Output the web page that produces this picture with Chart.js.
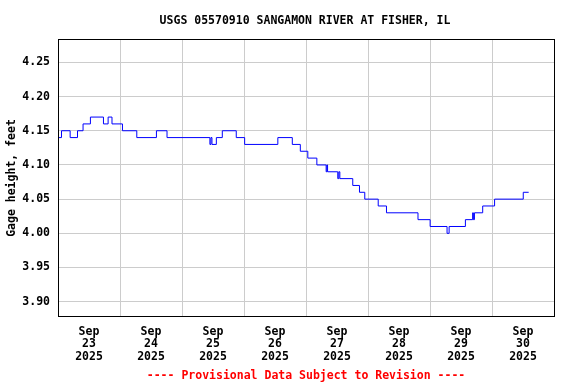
<!DOCTYPE html>
<html>
<head>
<meta charset="utf-8">
<script src="https://cdn.jsdelivr.net/npm/chart.js@4"></script>
<style>
html,body{margin:0;padding:0;background:#fff;}
#wrap{width:576px;height:384px;}
</style>
</head>
<body>
<div id="wrap"><canvas id="c" width="576" height="384"></canvas></div>
<script>
// Hours since 2025-09-23 00:00 at which the gage reading changes
const hoursSinceStart = [0.3, 1.35, 4.7, 7.55, 9.7, 12.55, 17.6, 19.4, 20.9, 24.95, 30.5, 38.1, 42.2, 58.8, 59.2, 59.6, 61.3, 63.6, 69.0, 72.25, 85.1, 90.7, 93.8, 96.7, 100.2, 103.8, 104.1, 104.35, 108.3, 108.7, 109.1, 114.1, 116.7, 118.75, 123.95, 127.15, 139.35, 144.05, 150.6, 151.4, 157.7, 160.5, 160.8, 161.2, 164.4, 169.0, 180.1, 182.2];
const gageFeet = [4.14, 4.15, 4.14, 4.15, 4.16, 4.17, 4.16, 4.17, 4.16, 4.15, 4.14, 4.15, 4.14, 4.13, 4.14, 4.13, 4.14, 4.15, 4.14, 4.13, 4.14, 4.13, 4.12, 4.11, 4.10, 4.09, 4.10, 4.09, 4.08, 4.09, 4.08, 4.07, 4.06, 4.05, 4.04, 4.03, 4.02, 4.01, 4.00, 4.01, 4.02, 4.03, 4.02, 4.03, 4.04, 4.05, 4.06, 4.06];
const dayLabels = [["Sep","23","2025"],["Sep","24","2025"],["Sep","25","2025"],["Sep","26","2025"],["Sep","27","2025"],["Sep","28","2025"],["Sep","29","2025"],["Sep","30","2025"]];
const yTicks = [3.90, 3.95, 4.00, 4.05, 4.10, 4.15, 4.20, 4.25];
const titleText = "USGS 05570910 SANGAMON RIVER AT FISHER, IL";
const footerText = "---- Provisional Data Subject to Revision ----";
const yTitle = "Gage height, feet";

const FONT = "'DejaVu Sans Mono', 'Liberation Mono', monospace";
const points = hoursSinceStart.map((h, i) => ({x: h, y: gageFeet[i]}));

const framePlugin = {
  id: 'frame',
  afterDraw(chart) {
    const {ctx, chartArea: a} = chart;
    ctx.save();
    ctx.strokeStyle = '#000';
    ctx.lineWidth = 1;
    ctx.strokeRect(Math.round(a.left) + 0.5, Math.round(a.top) - 0.5, Math.round(a.right - a.left), Math.round(a.bottom - a.top) + 1);
    ctx.textAlign = 'center';
    ctx.textBaseline = 'middle';
    ctx.font = "bold 11.5px " + FONT;
    ctx.fillStyle = '#000';
    ctx.fillText(titleText, 305, 21);
    ctx.fillStyle = '#ff0000';
    ctx.fillText(footerText, 306, 376);
    ctx.restore();
  }
};

new Chart(document.getElementById('c'), {
  type: 'line',
  data: {
    datasets: [{
      data: points,
      borderColor: '#0000ff',
      borderWidth: 1,
      pointRadius: 0,
      stepped: 'before',
      fill: false,
      tension: 0
    }]
  },
  options: {
    responsive: false,
    animation: false,
    devicePixelRatio: 1,
    layout: {padding: {left: 0, right: 22, top: 40, bottom: 24}},
    plugins: {legend: {display: false}, tooltip: {enabled: false}, title: {display: false}},
    scales: {
      x: {
        type: 'linear',
        min: 0,
        max: 192,
        afterFit(s) { s.height = 44; },
        afterBuildTicks(s) {
          const t = [];
          for (let v = 0; v <= 192; v += 12) t.push({value: v});
          s.ticks = t;
        },
        grid: {
          drawTicks: false,
          color: (c) => (c.tick && c.tick.value % 24 === 0) ? '#cccccc' : 'rgba(0,0,0,0)',
          lineWidth: 1
        },
        border: {display: true, color: '#000'},
        ticks: {
          autoSkip: false,
          maxRotation: 0,
          padding: 10,
          color: '#000',
          font: {family: FONT, size: 11.5, weight: 'bold', lineHeight: 1.07},
          callback: (v) => (v % 24 === 12) ? dayLabels[(v - 12) / 24] : ''
        }
      },
      y: {
        type: 'linear',
        min: 3.8791,
        max: 4.2827,
        afterFit(s) { s.width = 58; },
        afterBuildTicks(s) { s.ticks = yTicks.map(v => ({value: v})); },
        grid: {drawTicks: false, color: '#cccccc', lineWidth: 1},
        border: {display: true, color: '#000'},
        ticks: {
          padding: 8,
          color: '#000',
          font: {family: FONT, size: 11.5, weight: 'bold'},
          callback: (v) => Number(v).toFixed(2)
        },
        title: {
          display: true,
          text: yTitle,
          color: '#000',
          padding: {top: 5, bottom: 0},
          font: {family: FONT, size: 11.5, weight: 'bold'}
        }
      }
    }
  },
  plugins: [framePlugin]
});
</script>
</body>
</html>
